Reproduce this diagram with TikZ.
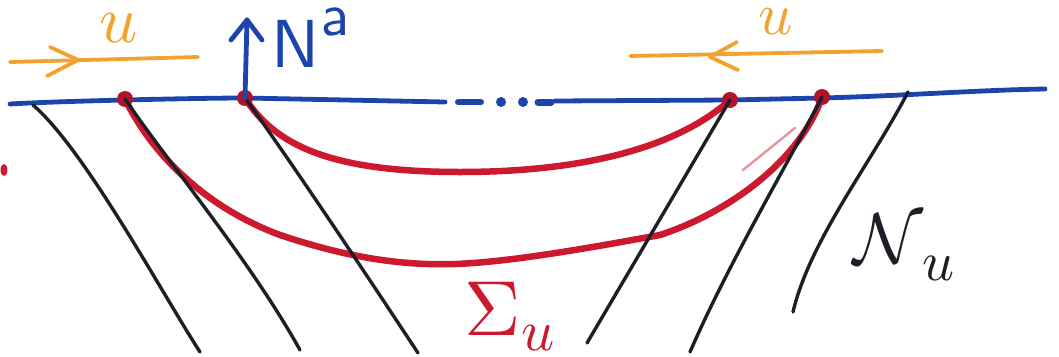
\documentclass[tikz,border=0pt]{standalone}
\usetikzlibrary{arrows.meta}
\definecolor{inkblue}{RGB}{28,68,170}
\definecolor{inkred}{RGB}{205,25,45}
\definecolor{inkknot}{RGB}{175,20,40}
\definecolor{inkorange}{RGB}{242,162,45}
\definecolor{inkblack}{RGB}{30,30,40}
\begin{document}
\begin{tikzpicture}[x=1pt,y=-1pt,
  blueline/.style={draw=inkblue, line width=4.8pt, line cap=round, line join=round},
  blackline/.style={draw=inkblack, line width=3.4pt, line cap=round},
  redline/.style={draw=inkred, line width=6.5pt, line cap=round, line join=round},
  orangeline/.style={draw=inkorange, line width=3.8pt, line cap=round, line join=round},
  knot/.style={circle, fill=inkknot, inner sep=0pt, minimum size=16pt},
  lbl/.style={inner sep=0pt, anchor=base west}]
\useasboundingbox (0,0) rectangle (1059,356);

% blue boundary line
\coordinate (bl0) at (10,104);
\coordinate (bl1) at (445,102);
\coordinate (bd1a) at (458,102); \coordinate (bd1b) at (481,102);
\coordinate (bdot1) at (501,102); \coordinate (bdot2) at (523,102);
\coordinate (bd2a) at (538,102); \coordinate (bd2b) at (551,102);
\coordinate (bl2) at (555,101);
\coordinate (bl3) at (1045,89);
\draw[blueline] (bl0) .. controls (60,101) and (200,98) .. (245,98) -- (bl1);
\draw[blueline, line width=6pt] (bd1a) -- (bd1b);
\fill[inkblue] (bdot1) circle (5pt) (bdot2) circle (5pt);
\draw[blueline, line width=7pt] (bd2a) -- (bd2b);
\draw[blueline] (bl2) -- (730,100) -- (822,98) .. controls (900,96) and (980,90) .. (bl3);

% knots
\coordinate (A) at (125,99);
\coordinate (B) at (245,98);
\coordinate (C) at (730,100);
\coordinate (D) at (822,97);

% red surfaces
\draw[redline] (B) .. controls (275,145) and (330,172) .. (460,172)
  .. controls (590,172) and (680,145) .. (C);
\draw[redline] (A) .. controls (150,150) and (200,205) .. (280,235)
  .. controls (340,255) and (395,266) .. (455,264)
  .. controls (515,262) and (610,244) .. (660,235)
  .. controls (730,212) and (800,160) .. (D);
\draw[redline, line width=4pt] (A) .. controls (145,140) and (190,190) .. (250,222);
\draw[draw=inkred!45, line width=2.5pt, line cap=round] (743,170) -- (795,128);
\fill[inkred] (4,170) ellipse (3.5pt and 6pt);

\node[knot] (kA) at (A) {};
\node[knot] (kB) at (B) {};
\node[knot] (kC) at (C) {};
\node[knot] (kD) at (D) {};

% black null lines
\coordinate (t1) at (33,105);  \coordinate (b1) at (200,352);
\coordinate (b2) at (300,350);
\coordinate (b3) at (418,353);
\coordinate (b4) at (587,343);
\coordinate (b5) at (690,352);
\coordinate (t6) at (908,92);  \coordinate (b6) at (793,312);
\draw[blackline] (t1) .. controls (85,150) and (160,290) .. (b1);
\draw[blackline] (A) .. controls (170,165) and (250,260) .. (b2);
\draw[blackline] (B) .. controls (290,160) and (370,280) .. (b3);
\draw[blackline] (C) -- (b4);
\draw[blackline] (D) .. controls (790,160) and (730,260) .. (b5);
\draw[blackline] (t6) .. controls (870,165) and (810,240) .. (b6);

% orange arrows
\coordinate (ol0) at (10,62); \coordinate (ol1) at (198,57);
\coordinate (oltip) at (78,60); \coordinate (olb1) at (50,47); \coordinate (olb2) at (47,76);
\draw[orangeline] (ol0) -- (ol1);
\draw[orangeline] (olb1) -- (oltip) -- (olb2);
\coordinate (or0) at (630,56); \coordinate (or1) at (882,51);
\coordinate (ortip) at (710,57); \coordinate (orb1) at (737,42); \coordinate (orb2) at (738,70);
\draw[orangeline] (or0) -- (or1);
\draw[orangeline] (orb1) -- (ortip) -- (orb2);
\node[lbl, text=inkorange, scale=6.7] (u1) at (98,42) {$u$};
\node[lbl, text=inkorange, scale=6] (u2) at (757,34) {$u$};

% normal arrow N^a
\coordinate (natip) at (247,20);
\coordinate (nab1) at (231,40); \coordinate (nab2) at (262,40);
\draw[blueline] (B) -- (natip);
\draw[blueline] (nab1) -- (natip) -- (nab2);
\node[lbl, text=inkblue, scale=6.8] (N) at (270,67) {$\mathsf{N}$};
\node[lbl, text=inkblue, scale=6] (a) at (320,35) {$\mathsf{a}$};

% labels
\node[lbl, text=inkred, scale=7.8] (Sig) at (463,335) {$\Sigma$};
\node[lbl, text=inkred, scale=5.8] (Sigu) at (520,350) {$u$};
\node[lbl, text=inkblack, scale=7.2] (Nu) at (852,263) {$\mathcal{N}$};
\node[lbl, text=inkblack, scale=5.6] (Nuu) at (921,280) {$u$};
\end{tikzpicture}
\end{document}
